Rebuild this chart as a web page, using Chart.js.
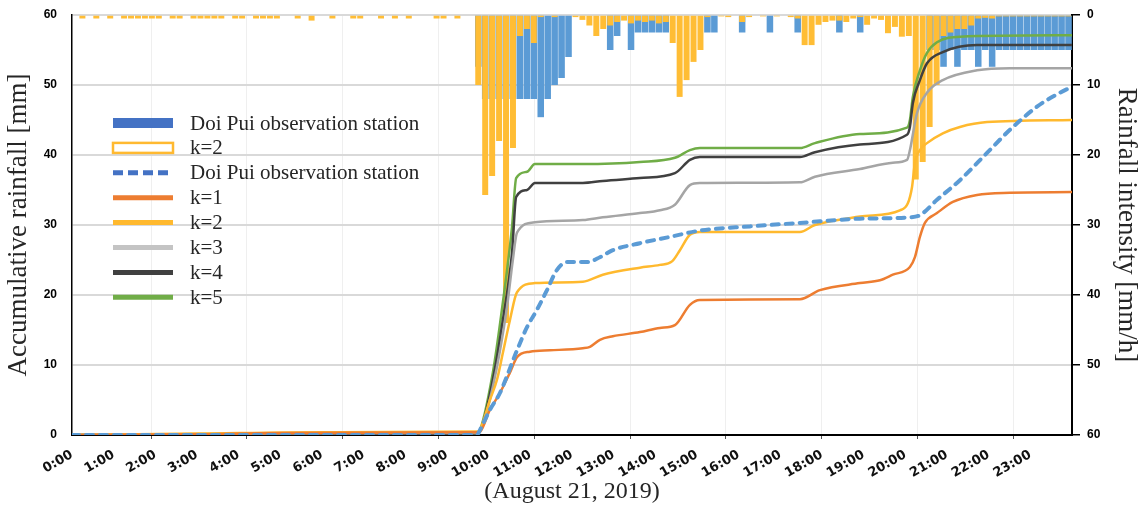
<!DOCTYPE html>
<html lang="en">
<head>
<meta charset="UTF-8">
<title>Doi Pui rainfall</title>
<style>
  html, body { margin: 0; padding: 0; background: #fff; }
</style>
</head>
<body>
<div style="width:1142px;height:506px;">
  <canvas id="rainChart" width="1142" height="506"></canvas>
</div>
<script src="https://cdn.jsdelivr.net/npm/chart.js"></script>
<script>
// tick labels for the time axis (hours)
const hourLabels = ['0:00', '1:00', '2:00', '3:00', '4:00', '5:00', '6:00', '7:00', '8:00', '9:00', '10:00', '11:00',
  '12:00', '13:00', '14:00', '15:00', '16:00', '17:00', '18:00', '19:00', '20:00', '21:00', '22:00', '23:00'];

// 10-minute rainfall intensity [mm/h], 144 slots from 0:00
const obsRain = [
  0, 0, 0, 0, 0, 0, 0, 0, 0, 0, 0, 0, 0, 0, 0, 0, 0, 0, 0, 0, 0, 0, 0, 0,
  0, 0, 0, 0, 0, 0, 0, 0, 0, 0, 0, 0, 0, 0, 0, 0, 0, 0, 0, 0, 0, 0, 0, 0,
  0, 0, 0, 0, 0, 0, 0, 0, 0, 0, 7.4, 12, 12, 12, 12, 12, 12, 12, 12, 14.6, 12, 10, 9, 6,
  0, 0, 0, 0, 0, 5, 3, 0, 5, 2.5, 2.5, 2.5, 2.5, 2.5, 0, 0, 0, 0, 0, 2.5, 2.5, 0, 0, 0,
  2.5, 0, 0, 0, 2.5, 0, 0, 0, 2.5, 0, 0, 0, 0, 0, 2.5, 0, 0, 2.5, 0, 0, 0, 0, 0, 0,
  0, 0, 0, 5, 5, 7.4, 5, 7.4, 5, 5, 7.4, 5, 7.4, 5, 5, 5, 5, 5, 5, 5, 5, 5, 5, 5
];
const k2Rain = [
  0, 0.5, 0, 0.5, 0, 0.5, 0, 0.5, 0.5, 0.5, 0.5, 0.5, 0.5, 0, 0.5, 0.5, 0, 0.5, 0.5, 0.5, 0.5, 0.5, 0, 0.5,
  0.5, 0, 0.5, 0.5, 0.5, 0.5, 0, 0, 0.5, 0, 0.8, 0, 0, 0.5, 0, 0, 0.5, 0.5, 0, 0, 0.5, 0, 0.5, 0,
  0.5, 0, 0, 0, 0.5, 0.5, 0, 0.5, 0, 0, 10, 25.7, 23, 18, 44, 19, 3, 2, 4, 0.3, 0, 0.3, 0, 0,
  0.3, 0.7, 1.5, 3, 2, 1.5, 1, 0.8, 1.2, 0.8, 1, 0.8, 1.2, 1, 4, 11.7, 9.3, 6.7, 5, 0.3, 0, 0.2, 0.3, 0,
  1, 0.3, 0, 0.2, 0, 0.2, 0, 0.3, 0.5, 4.3, 4.3, 1.4, 1, 0.8, 0.8, 1, 0.5, 0.3, 1.4, 0.5, 0.7, 2.6, 1.7, 3.1,
  3, 23.5, 21, 16, 10, 3, 2.5, 2, 2, 1.5, 0.5, 0.4, 0.5, 0.2, 0.2, 0.2, 0.2, 0.2, 0.2, 0.2, 0.2, 0.2, 0.2, 0.2
];

// accumulative rainfall [mm] as [hour, value]
const obsAccum = [[0, 0], [9.72, 0], [9.79, 0.7], [10.03, 3.6], [10.27, 6], [10.68, 12.1], [10.92, 15.4], [11.16, 17.9],
  [11.4, 20.7], [11.64, 23.6], [11.88, 24.7], [12.36, 24.7], [12.67, 25.4], [12.98, 26.4], [13.63, 27.4], [14.35, 28.3],
  [15.07, 29.2], [16.27, 29.8], [17.47, 30.3], [18.91, 30.9], [20.11, 31.1], [20.35, 31.4], [20.76, 33.6], [21.31, 36.4],
  [21.96, 40.3], [22.51, 43.6], [23.16, 46.9], [23.71, 48.9], [23.95, 49.6]];
const k1Accum = [[0, 0], [3, 0.1], [5, 0.3], [9.74, 0.4], [9.8, 0.5], [10.03, 3.6], [10.27, 6], [10.51, 8.9], [10.68, 11.1],
  [10.99, 11.9], [11.47, 12.1], [12.26, 12.4], [12.43, 12.6], [12.67, 13.6], [12.98, 14.1], [13.63, 14.7], [14.11, 15.3],
  [14.47, 15.7], [14.83, 18.6], [15.07, 19.3], [17.47, 19.4], [17.95, 20.7], [18.91, 21.7], [19.39, 22.1], [19.7, 22.9],
  [20.11, 24], [20.23, 25.4], [20.35, 28.3], [20.47, 30.3], [20.76, 31.7], [21.14, 33.3], [21.72, 34.3], [22.51, 34.6], [24, 34.7]];
const k2Accum = [[0, 0], [3, 0.2], [6, 0.4], [9.74, 0.5], [9.79, 0.7], [10.03, 5], [10.2, 7.9], [10.34, 11.7], [10.51, 16.4],
  [10.68, 20.4], [11.11, 21.7], [12.26, 21.9], [12.74, 22.9], [13.63, 23.9], [14.11, 24.3], [14.4, 24.8], [14.59, 26.4],
  [14.83, 28.6], [15.07, 29], [17.47, 29], [17.83, 30], [18.91, 31.2], [19.87, 32.1], [20.06, 33.1], [20.16, 35.4],
  [20.23, 38.9], [20.35, 40.7], [20.52, 41.7], [20.9, 43.1], [21.31, 44], [21.96, 44.7], [24, 45]];
const k3Accum = [[0, 0], [5, 0.2], [9.74, 0.3], [9.89, 2], [10.1, 6.9], [10.27, 12], [10.44, 18.3], [10.58, 25], [10.68, 28.9],
  [11.11, 30.4], [12.26, 30.7], [12.74, 31.1], [13.63, 31.7], [14.11, 32.1], [14.47, 32.9], [14.83, 35.7], [15.07, 36],
  [17.47, 36.1], [17.83, 36.9], [18.91, 38], [19.7, 38.9], [20.04, 39.3], [20.11, 40.7], [20.28, 46], [20.52, 48.9],
  [20.9, 50.7], [21.72, 52.1], [22.51, 52.4], [24, 52.4]];
const k4Accum = [[0, 0], [4, 0.1], [9.7, 0.2], [9.76, 0.3], [10.1, 7.9], [10.34, 16.4], [10.56, 26], [10.66, 34], [10.92, 35],
  [11.11, 36], [12.26, 36], [12.74, 36.3], [13.63, 36.7], [14.47, 37.4], [14.83, 39.3], [15.07, 39.7], [17.47, 39.7],
  [17.83, 40.4], [18.91, 41.5], [20.04, 42.9], [20.11, 44], [20.18, 47.4], [20.35, 50.7], [20.52, 53.1], [20.9, 54.7],
  [21.72, 55.7], [24, 55.7]];
const k5Accum = [[0, 0], [4, 0.1], [9.7, 0.1], [9.76, 0.3], [10.1, 8.9], [10.34, 18.9], [10.56, 29.7], [10.66, 36.7],
  [10.92, 37.6], [11.11, 38.7], [12.26, 38.7], [13.63, 39], [14.47, 39.6], [14.83, 40.7], [15.07, 41], [17.47, 41],
  [17.83, 41.7], [18.91, 43], [20.04, 43.9], [20.11, 45], [20.18, 48.3], [20.35, 52.1], [20.52, 54.6], [20.76, 56.1],
  [21.31, 56.9], [24, 57.1]];

const slotHours = 1 / 6;
const toBars = arr => arr.map((v, i) => ({ x: (i + 0.5) * slotHours, y: v }));
const toPts = arr => arr.map(p => ({ x: p[0], y: p[1] }));

function lineSet(label, pts, color, legendColor, extra) {
  return Object.assign({
    type: 'line', label: label, data: toPts(pts), yAxisID: 'y',
    borderColor: color, borderWidth: 2.5, pointRadius: 0, fill: false,
    cubicInterpolationMode: 'monotone', order: 1,
    legendKind: 'line', legendColor: legendColor
  }, extra || {});
}

const datasets = [
  {
    type: 'bar', label: 'Doi Pui observation station', data: toBars(obsRain), yAxisID: 'y2',
    backgroundColor: '#5B9BD5', borderWidth: 0, grouped: false,
    barPercentage: 0.94, categoryPercentage: 1, order: 3,
    legendKind: 'bar', legendColor: '#4472C4'
  },
  {
    type: 'bar', label: 'k=2', data: toBars(k2Rain), yAxisID: 'y2',
    backgroundColor: '#FFBD35', borderWidth: 0, grouped: false,
    barPercentage: 0.86, categoryPercentage: 1, order: 2,
    legendKind: 'box', legendColor: '#FFB930'
  },
  lineSet('Doi Pui observation station', obsAccum, '#5B9BD5', '#4472C4',
    { borderWidth: 4, borderDash: [7, 7], borderCapStyle: 'round', legendKind: 'dash' }),
  lineSet('k=1', k1Accum, '#ED7D31', '#ED7D31'),
  lineSet('k=2', k2Accum, '#FFB92E', '#FFB92E'),
  lineSet('k=3', k3Accum, '#A5A5A5', '#C4C4C4'),
  lineSet('k=4', k4Accum, '#404040', '#404040'),
  lineSet('k=5', k5Accum, '#70AD47', '#70AD47')
];

// legend drawn inside the plot, as in the figure
const insideLegend = {
  id: 'insideLegend',
  afterDraw(chart) {
    const ctx = chart.ctx;
    const x0 = 113, x1 = 173, tx = 190, y0 = 123, dy = 24.9;
    ctx.save();
    ctx.font = '21px "Liberation Serif"';
    ctx.textBaseline = 'middle';
    chart.data.datasets.forEach((ds, i) => {
      const y = y0 + i * dy;
      ctx.fillStyle = ds.legendColor;
      ctx.strokeStyle = ds.legendColor;
      if (ds.legendKind === 'bar') {
        ctx.fillRect(x0, y - 5, x1 - x0, 10);
      } else if (ds.legendKind === 'box') {
        ctx.lineWidth = 2.5;
        ctx.fillStyle = '#fff';
        ctx.fillRect(x0, y - 5, x1 - x0, 10);
        ctx.strokeRect(x0, y - 5, x1 - x0, 10);
      } else {
        ctx.lineWidth = 5;
        ctx.setLineDash(ds.legendKind === 'dash' ? [10, 5] : []);
        ctx.beginPath();
        ctx.moveTo(x0, y);
        ctx.lineTo(x1, y);
        ctx.stroke();
        ctx.setLineDash([]);
      }
      ctx.fillStyle = '#262626';
      ctx.fillText(ds.label, tx, y + 1);
    });
    ctx.restore();
  }
};

const gridStartH = 1.9, gridStepH = 2.299;
const titleFont = { family: 'Liberation Serif', size: 24 };
const yTitleFont = { family: 'Liberation Serif', size: 27 };
const tickFont = { family: 'Liberation Sans', size: 12, weight: 'bold' };

new Chart(document.getElementById('rainChart'), {
  type: 'bar',
  data: { datasets: datasets },
  options: {
    responsive: false,
    animation: false,
    layout: { padding: { top: 15, left: 0, right: 0, bottom: 0 } },
    plugins: { legend: { display: false }, tooltip: { enabled: false } },
    scales: {
      xg: {
        type: 'linear', position: 'bottom', min: 0, max: 24, offset: false, weight: 0,
        ticks: { display: false },
        grid: { color: '#efefef', lineWidth: 1, tickLength: 4, tickColor: '#555', offset: false },
        border: { display: false },
        afterBuildTicks: axis => {
          const t = [];
          for (let h = gridStartH; h < 24; h += gridStepH) t.push({ value: h });
          axis.ticks = t;
        },
        afterFit: s => { s.height = 0; }
      },
      x: {
        type: 'linear', position: 'bottom', min: 0, max: 24, offset: false, weight: 1,
        grid: { display: false },
        border: { display: true, color: '#000', width: 2 },
        afterBuildTicks: axis => {
          axis.ticks = hourLabels.map((l, i) => ({ value: i }));
        },
        ticks: {
          autoSkip: false, minRotation: 30, maxRotation: 30, padding: 4,
          color: '#111', font: { family: 'DejaVu Sans', size: 13, weight: 'bold' },
          callback: v => hourLabels[v]
        },
        title: { display: true, text: '(August 21, 2019)', color: '#262626', font: titleFont, padding: { top: 0, bottom: 0 } },
        afterFit: s => { s.height = 71; }
      },
      y: {
        position: 'left', min: 0, max: 60,
        ticks: { stepSize: 10, padding: 7, color: '#000', font: tickFont },
        grid: { color: '#d9d9d9', lineWidth: 2, drawTicks: true, tickLength: 8, tickColor: 'rgba(0,0,0,0)' },
        border: { display: true, color: '#000', width: 1.5 },
        title: { display: true, text: 'Accumulative rainfall [mm]', color: '#262626', font: yTitleFont, padding: { top: 3, bottom: 0 } },
        afterFit: s => { s.width = 72; }
      },
      y2: {
        position: 'right', min: 0, max: 60, reverse: true,
        ticks: { stepSize: 10, padding: 7, color: '#000', font: tickFont },
        grid: { drawOnChartArea: false, tickLength: 8, tickColor: '#000', lineWidth: 1.5 },
        border: { display: true, color: '#000', width: 2 },
        title: { display: true, text: 'Rainfall intensity [mm/h]', color: '#262626', font: yTitleFont, padding: { top: 0, bottom: 0 } },
        afterFit: s => { s.width = 70; }
      }
    }
  },
  plugins: [insideLegend]
});
</script>
</body>
</html>
